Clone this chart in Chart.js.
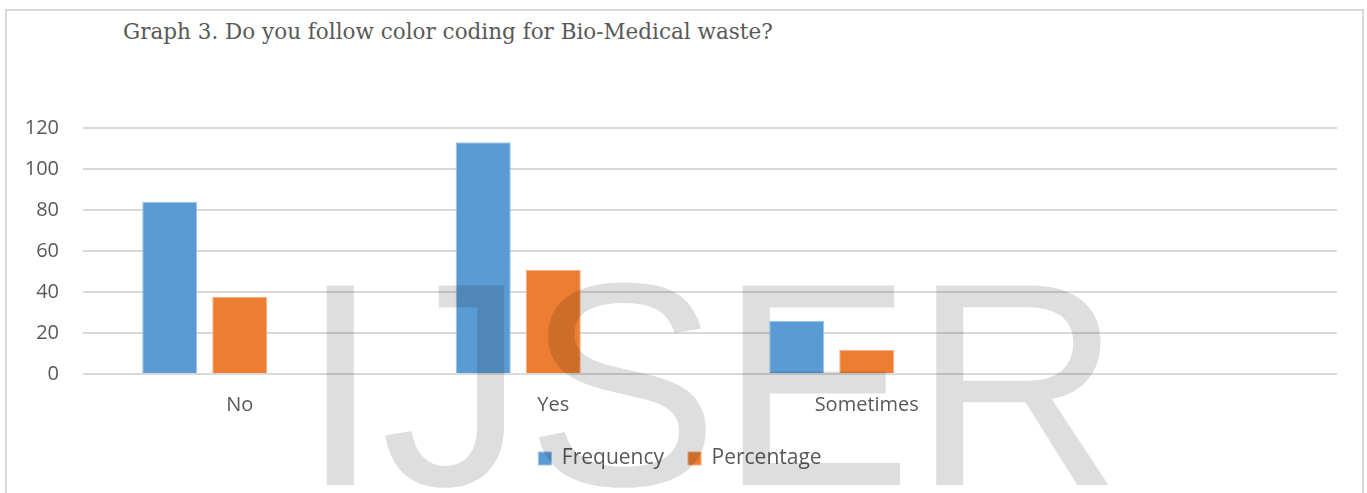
<!DOCTYPE html>
<html>
<head>
<meta charset="utf-8">
<script src="https://cdn.jsdelivr.net/npm/chart.js@4"></script>
<style>
    html, body { margin: 0; padding: 0; background: #fff; }
    #wrap { position: relative; width: 1367px; height: 493px; overflow: hidden; }
    #frame { position: absolute; left: 5px; top: 9px; width: 1359px; height: 500px; border: 2px solid #d9d9d9; box-sizing: border-box; }
    #title { position: absolute; left: 123px; top: 21px; font-family: "DejaVu Serif", "Liberation Serif", serif; font-size: 21.5px; line-height: 1; color: #595959; }
    #mark { position: absolute; left: 300px; top: 239px; font-family: "Liberation Sans", Arial, sans-serif; font-size: 290px; line-height: 1; color: rgba(0,0,0,0.13); pointer-events: none; white-space: nowrap; }
    canvas { position: absolute; left: 0; top: 0; }
</style>
</head>
<body>
<div id="wrap">
    <div id="frame"></div>
    <div id="title">Graph 3. Do you follow color coding for Bio-Medical waste?</div>
    <canvas id="chart" width="1367" height="493"></canvas>
    <div id="mark">IJSER</div>
</div>
<script>
const categories = ["No", "Yes", "Sometimes", ""];
const frequency = [84, 113, 26, null];
const percentage = [37.7, 50.7, 11.7, null];
const yTicks = [0, 20, 40, 60, 80, 100, 120];

const ctx = document.getElementById("chart").getContext("2d");
new Chart(ctx, {
    type: "bar",
    data: {
        labels: categories,
        datasets: [
            { label: "Frequency", data: frequency, backgroundColor: "#5B9BD5", borderColor: "#9DC3E6", borderWidth: 1 },
            { label: "Percentage", data: percentage, backgroundColor: "#ED7D31", borderColor: "#F4B183", borderWidth: 1 },
            { label: "", data: [null, null, null, null], backgroundColor: "transparent" }
        ]
    },
    options: {
        responsive: false,
        animation: false,
        layout: { padding: { left: 23, right: 30, top: 128, bottom: 14 } },
        datasets: { bar: { categoryPercentage: 0.67, barPercentage: 0.786 } },
        scales: {
            x: {
                afterFit: function (scale) { scale.height = 50; },
                grid: { display: false },
                border: { display: false },
                ticks: { color: "#595959", font: { family: "Open Sans", size: 20 }, padding: 11 }
            },
            y: {
                min: 0,
                max: 120,
                afterFit: function (scale) { scale.width = 60; },
                afterBuildTicks: function (scale) { scale.ticks = yTicks.map(v => ({ value: v })); },
                grid: { color: "#d9d9d9", lineWidth: 2, drawTicks: false },
                border: { display: false },
                ticks: { color: "#595959", font: { family: "Open Sans", size: 20 }, padding: 24 }
            }
        },
        plugins: {
            legend: {
                position: "bottom",
                labels: {
                    color: "#595959",
                    font: { family: "Open Sans", size: 21 },
                    boxWidth: 13,
                    boxHeight: 13,
                    padding: 24,
                    filter: item => item.text !== ""
                }
            },
            tooltip: { enabled: false }
        }
    }
});
</script>
</body>
</html>
